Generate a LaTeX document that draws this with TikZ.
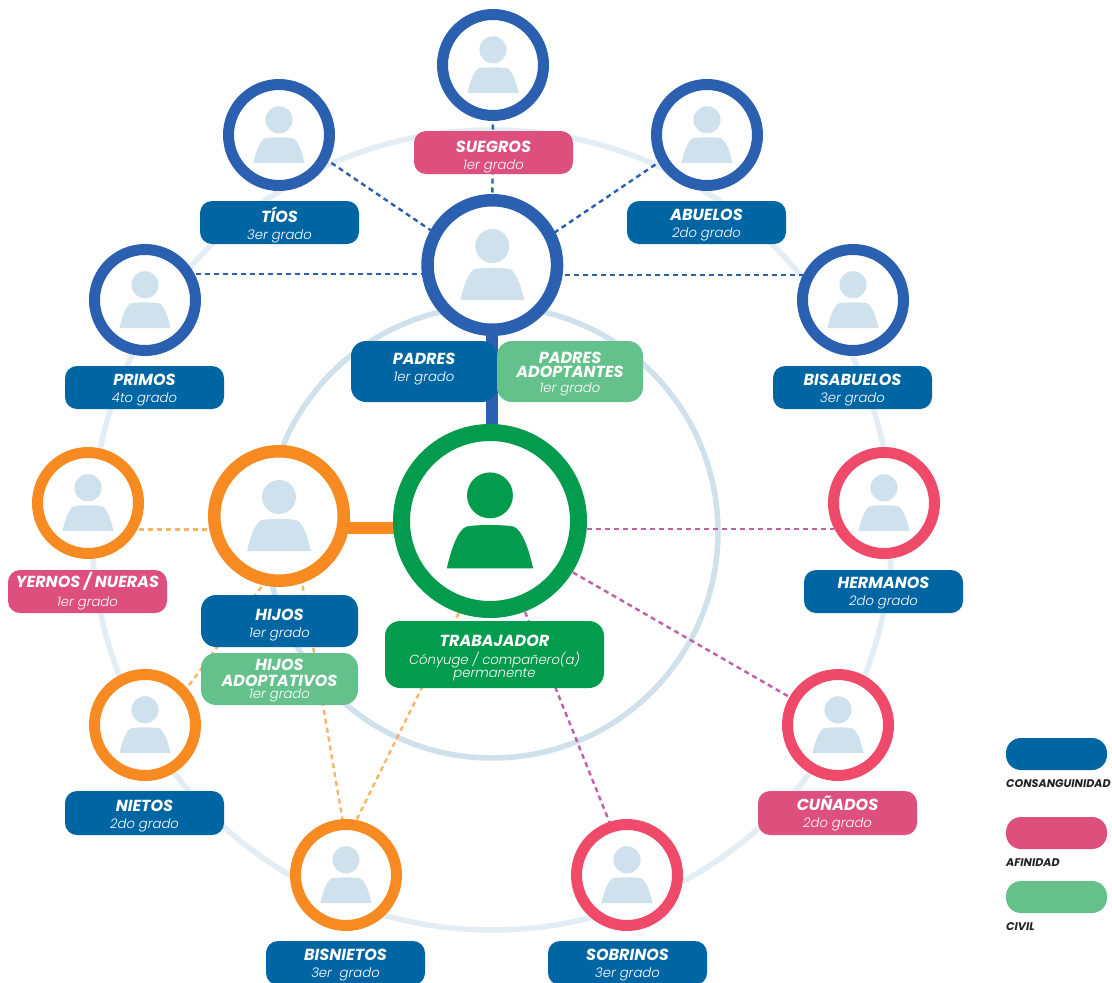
\documentclass[tikz,border=0pt]{standalone}
\usepackage{fontspec}
\setmainfont{Poppins}
\newfontfamily\titlef{Poppins Bold Italic}
\newfontfamily\subf{Poppins Light Italic}
\usetikzlibrary{backgrounds}
\definecolor{cblue}{HTML}{0066A3}
\definecolor{cpink}{HTML}{DD4F7C}
\definecolor{cgreen}{HTML}{65C18C}
\definecolor{cdgreen}{HTML}{039B4E}
\definecolor{rblue}{HTML}{2A60AF}
\definecolor{rorange}{HTML}{F78B21}
\definecolor{rred}{HTML}{F04A6B}
\definecolor{icon}{HTML}{CFE1EC}
\definecolor{ringa}{HTML}{E3EDF3}
\definecolor{ringb}{HTML}{D0E1EC}
\definecolor{dashpur}{HTML}{C260A4}
\definecolor{dashora}{HTML}{F9B567}
\definecolor{legtxt}{HTML}{222222}
\tikzset{
  ringnode/.style={circle,draw=#1,fill=white,inner sep=0pt,outer sep=0pt},
  smallring/.style={ringnode=#1,line width=11pt,minimum size=101pt},
  bigring/.style={ringnode=#1,line width=12.5pt,minimum size=129.5pt},
  orbit/.style={circle,draw=#1,inner sep=0pt,outer sep=0pt,line width=5.5pt},
  dashb/.style={draw=rblue,line width=2.4pt,dash pattern=on 5pt off 4pt},
  dashp/.style={draw=dashpur,line width=2.4pt,dash pattern=on 5pt off 4pt},
  dasho/.style={draw=dashora,line width=2.4pt,dash pattern=on 5pt off 4pt},
  lab/.style={fill=#1,inner sep=0pt,outer sep=0pt,rounded corners=12pt},
  labbig/.style={fill=#1,inner sep=0pt,outer sep=0pt,rounded corners=15pt},
  labtext/.style={text=white,inner sep=0pt,outer sep=0pt,align=center},
  leg/.style={fill=#1,inner sep=0pt,outer sep=0pt,rounded corners=15pt,minimum width=101pt,minimum height=32pt},
  legtext/.style={anchor=west,inner sep=0pt,text=legtxt,font=\titlef\fontsize{11.1}{13}\selectfont}
}
\newcommand{\ttl}[1]{{\titlef\fontsize{16}{14}\selectfont #1}}
\newcommand{\sbt}[1]{{\subf\fontsize{13.2}{12.6}\selectfont #1}}
\newcommand{\person}[4]{%
  \begin{scope}[shift={(#1,#2)},scale=#3]
    \fill[#4] (0,-19) circle[radius=17];
    \fill[#4] (-32,35) .. controls (-29,22) and (-24,6) .. (-17,4)
      .. controls (-8,2.6) and (8,2.6) .. (17,4)
      .. controls (24,6) and (29,22) .. (32,35) -- cycle;
  \end{scope}}
\newcommand{\boxnode}[8][0]{% [dy] name x1 y1 x2 y2 box-style text
  \pgfmathsetmacro{\bw}{#5-#3}\pgfmathsetmacro{\bh}{#6-#4}
  \pgfmathsetmacro{\bx}{(#3+#5)/2}\pgfmathsetmacro{\by}{(#4+#6)/2}
  \pgfmathsetmacro{\ty}{\by+#1}
  \node[#7,minimum width=\bw pt,minimum height=\bh pt] (#2) at (\bx,\by) {};
  \node[labtext] (#2t) at (\bx,\ty) {#8};}
\begin{document}
\begin{tikzpicture}[x=1pt,y=-1pt]
\clip (0,0) rectangle (1112,983);
% person circles
\node[smallring=rblue] (suegrosc) at (493,65) {};
\node[smallring=rblue] (tiosc) at (279,135) {};
\node[smallring=rblue] (abuelosc) at (707,135) {};
\node[bigring=rblue] (padresc) at (492.3,265) {};
\node[smallring=rblue] (primosc) at (145,300) {};
\node[smallring=rblue] (bisabc) at (853,300) {};
\node[smallring=rorange] (yernosc) at (88,503) {};
\node[smallring=rred] (hermanosc) at (884,503) {};
\node[bigring=rorange] (hijosc) at (279,516) {};
\node[ringnode=cdgreen,line width=17pt,minimum size=177pt] (trabc) at (490,521) {};
\node[smallring=rorange] (nietosc) at (145,725) {};
\node[smallring=rred] (cunadosc) at (838,725) {};
\node[smallring=rorange] (bisnc) at (346,875) {};
\node[smallring=rred] (sobc) at (627,875) {};
% icons
\person{493}{65}{.8}{icon}
\person{279}{135}{.8}{icon}
\person{707}{135}{.8}{icon}
\person{492.3}{265}{1}{icon}
\person{145}{300}{.8}{icon}
\person{853}{300}{.8}{icon}
\person{88}{503}{.8}{icon}
\person{884}{503}{.8}{icon}
\person{279}{516}{1}{icon}
\person{490}{521}{1.35}{cdgreen}
\person{145}{725}{.8}{icon}
\person{838}{725}{.8}{icon}
\person{346}{875}{.8}{icon}
\person{627}{875}{.8}{icon}
% labels
\boxnode[4.5]{suegrosl}{414}{131}{573}{174}{lab=cpink}{\ttl{SUEGROS}\\[5pt]\sbt{1er grado}}
\boxnode[2.5]{tiosl}{200}{201}{359}{244}{lab=cblue}{\ttl{TÍOS}\\[5pt]\sbt{3er grado}}
\boxnode[2.5]{abuelosl}{627}{201}{786}{244}{lab=cblue}{\ttl{ABUELOS}\\[5pt]\sbt{2do grado}}
\boxnode[-2.5]{padresl}{351}{341}{497}{402}{labbig=cblue}{\ttl{PADRES}\\[5pt]\sbt{1er grado}}
\boxnode[3]{padresal}{497}{341}{643}{402}{labbig=cgreen}{\ttl{PADRES}\\[2pt]\ttl{ADOPTANTES}\\[3pt]\sbt{1er grado}}
\boxnode[2.5]{primosl}{65}{366}{224}{409}{lab=cblue}{\ttl{PRIMOS}\\[5pt]\sbt{4to grado}}
\boxnode[2.5]{bisabl}{773}{366}{932}{409}{lab=cblue}{\ttl{BISABUELOS}\\[5pt]\sbt{3er grado}}
\boxnode{yernosl}{8}{570}{167}{613}{lab=cpink}{\ttl{YERNOS / NUERAS}\\[5pt]\sbt{1er grado}}
\boxnode[2]{hermanosl}{804}{570}{963}{613}{lab=cblue}{\ttl{HERMANOS}\\[5pt]\sbt{2do grado}}
\boxnode[4]{hijosl}{201}{595}{358}{647}{labbig=cblue}{\ttl{HIJOS}\\[5pt]\sbt{1er grado}}
\boxnode[2]{hijosal}{201}{653}{358}{705}{labbig=cgreen}{\ttl{HIJOS}\\[4pt]\ttl{ADOPTATIVOS}\\[0pt]\sbt{1er grado}}
\boxnode[3.5]{trabl}{385}{621}{604}{688}{labbig=cdgreen}{\ttl{TRABAJADOR}\\[5pt]\sbt{Cónyuge / compañero(a)}\\[-1pt]\sbt{permanente}}
\boxnode[3]{nietosl}{65}{791}{224}{835}{lab=cblue}{\ttl{NIETOS}\\[5pt]\sbt{2do grado}}
\boxnode[1]{cunadosl}{758}{791}{917}{835}{lab=cpink}{\ttl{CUÑADOS}\\[5pt]\sbt{2do grado}}
\boxnode[2]{bisnl}{266}{941}{425}{985}{lab=cblue}{\ttl{BISNIETOS}\\[5pt]\sbt{3er\ \ grado}}
\boxnode[2]{sobl}{548}{941}{707}{985}{lab=cblue}{\ttl{SOBRINOS}\\[5pt]\sbt{3er grado}}
% legend
\node[leg=cblue] (lega) at (1056.5,754) {};
\node[leg=cpink] (legb) at (1056.5,833) {};
\node[leg=cgreen] (legc) at (1056.5,897) {};
\node[legtext] (legat) at (1006,784) {CONSANGUINIDAD};
\node[legtext] (legbt) at (1006,863) {AFINIDAD};
\node[legtext] (legct) at (1006,927) {CIVIL};
\begin{pgfonlayer}{background}
  \fill[white] (0,0) rectangle (1112,983);
  \node[orbit=ringa,minimum size=800pt] (outer) at (492,530) {};
  \node[orbit=ringb,minimum size=452pt] (inner) at (492,532) {};
  % solid
  \draw[rblue,line width=12pt] (padresc.south) -- (padresc.south |- trabc.north);
  \draw[rorange,line width=12pt] (hijosc.-11.5) -- (hijosc.-11.5 -| trabc.west);
  % blue dashed
  \draw[dashb] (tiosc.-27) -- (padresc.151);
  \draw[dashb] (abuelosc.209) -- (padresc.27);
  \draw[dashb] (suegrosc.south) -- (padresc.north);
  \draw[dashb] (padresc.188.9 -| primosc.east) -- (padresc.188.9);
  \draw[dashb] (padresc.351.1) -- (padresc.351.1 -| bisabc.west);
  % purple dashed
  \draw[dashp] (trabc.-5.85) -- (trabc.-5.85 -| hermanosc.west);
  \draw[dashp] (trabc.-32) -- (cunadosc.150);
  \draw[dashp] (trabc.-69) -- (sobc.108);
  % orange dashed
  \draw[dasho] (hijosc.192.5 -| yernosc.east) -- (hijosc.192.5);
  \draw[dasho] (hijosc.259) -- (nietosc.40);
  \draw[dasho] (hijosc.-70) -- (bisnc.93);
  \draw[dasho] (trabc.252) -- (bisnc.81);
\end{pgfonlayer}
\end{tikzpicture}
\end{document}
